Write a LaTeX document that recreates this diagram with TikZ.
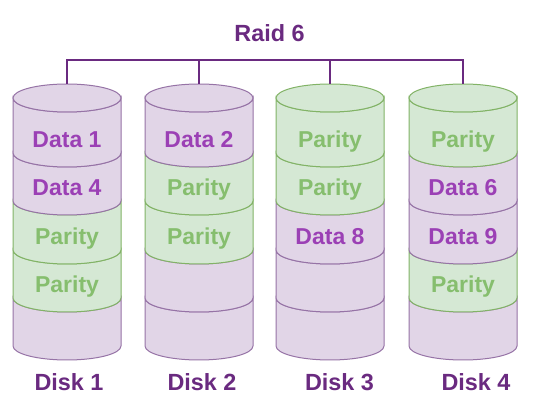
\documentclass[tikz,border=0pt]{standalone}
\usepackage{fontspec}
\setmainfont{Liberation Sans}
\definecolor{pfill}{HTML}{E1D5E7}
\definecolor{pline}{HTML}{9673A6}
\definecolor{gfill}{HTML}{D5E8D4}
\definecolor{gline}{HTML}{82B366}
\definecolor{datatxt}{HTML}{9B40B5}
\definecolor{partxt}{HTML}{86BE6E}
\definecolor{dark}{HTML}{6A2A80}
\newcommand{\dseg}[5]{% x, ytop, ybot, fill, line
  \filldraw[fill=#4, draw=#5, line width=1pt]
    (#1-54,-#2) -- (#1-54,-#3) arc[start angle=180, end angle=360, x radius=54, y radius=14]
    -- (#1+54,-#2) arc[start angle=0, end angle=-180, x radius=54, y radius=14] -- cycle;}
\newcommand{\dtop}[3]{% x, fill, line
  \filldraw[fill=#2, draw=#3, line width=1pt] (#1,-98) ellipse[x radius=54, y radius=14];}
\tikzset{
  datalbl/.style={font=\bfseries\fontsize{23}{26}\selectfont, text=datatxt, inner sep=0pt, anchor=base},
  parlbl/.style={font=\bfseries\fontsize{23}{26}\selectfont, text=partxt, inner sep=0pt, anchor=base},
  disklbl/.style={font=\bfseries\fontsize{23.4}{27}\selectfont, text=dark, inner sep=0pt, anchor=base},
  bus/.style={draw=dark, line width=2pt}
}
\begin{document}
\begin{tikzpicture}[x=1pt,y=1pt]
\useasboundingbox (0,0) rectangle (538,-411);
\fill[white] (0,0) rectangle (538,-411);
% Disk 1
\dseg{67}{298}{346}{pfill}{pline}
\dseg{67}{250}{298}{gfill}{gline}
\dseg{67}{201}{250}{gfill}{gline}
\dseg{67}{153}{201}{pfill}{pline}
\dseg{67}{98}{153}{pfill}{pline}
\dtop{67}{pfill}{pline}
% Disk 2
\dseg{199}{298}{346}{pfill}{pline}
\dseg{199}{250}{298}{pfill}{pline}
\dseg{199}{201}{250}{gfill}{gline}
\dseg{199}{153}{201}{gfill}{gline}
\dseg{199}{98}{153}{pfill}{pline}
\dtop{199}{pfill}{pline}
% Disk 3
\dseg{330}{298}{346}{pfill}{pline}
\dseg{330}{250}{298}{pfill}{pline}
\dseg{330}{201}{250}{pfill}{pline}
\dseg{330}{153}{201}{gfill}{gline}
\dseg{330}{98}{153}{gfill}{gline}
\dtop{330}{gfill}{gline}
% Disk 4
\dseg{463}{298}{346}{pfill}{pline}
\dseg{463}{250}{298}{gfill}{gline}
\dseg{463}{201}{250}{pfill}{pline}
\dseg{463}{153}{201}{pfill}{pline}
\dseg{463}{98}{153}{gfill}{gline}
\dtop{463}{gfill}{gline}
% labels in segments
\node[datalbl] (d1a) at (67,-148) {Data 1};
\node[datalbl] (d1b) at (67,-196) {Data 4};
\node[parlbl]  (d1c) at (67,-245) {Parity};
\node[parlbl]  (d1d) at (67,-293) {Parity};
\node[datalbl] (d2a) at (199,-148) {Data 2};
\node[parlbl]  (d2b) at (199,-196) {Parity};
\node[parlbl]  (d2c) at (199,-245) {Parity};
\node[parlbl]  (d3a) at (330,-148) {Parity};
\node[parlbl]  (d3b) at (330,-196) {Parity};
\node[datalbl] (d3c) at (330,-245) {Data 8};
\node[parlbl]  (d4a) at (463,-148) {Parity};
\node[datalbl] (d4b) at (463,-196) {Data 6};
\node[datalbl] (d4c) at (463,-245) {Data 9};
\node[parlbl]  (d4d) at (463,-293) {Parity};
% title and bus
\node[disklbl] (title) at (269.5,-41.7) {Raid 6};
\coordinate (top1) at (67,-84);
\coordinate (top2) at (199,-84);
\coordinate (top3) at (330,-84);
\coordinate (top4) at (463,-84);
\coordinate (bus1) at (67,-60);
\coordinate (bus2) at (199,-60);
\coordinate (bus3) at (330,-60);
\coordinate (bus4) at (463,-60);
\draw[bus] (top1) -- (bus1) -- (bus4) -- (top4);
\draw[bus] (bus2) -- (top2);
\draw[bus] (bus3) -- (top3);
% disk names
\node[disklbl] (n1) at (69,-390) {Disk 1};
\node[disklbl] (n2) at (202,-390) {Disk 2};
\node[disklbl] (n3) at (339.5,-390) {Disk 3};
\node[disklbl] (n4) at (476,-390) {Disk 4};
\end{tikzpicture}
\end{document}
